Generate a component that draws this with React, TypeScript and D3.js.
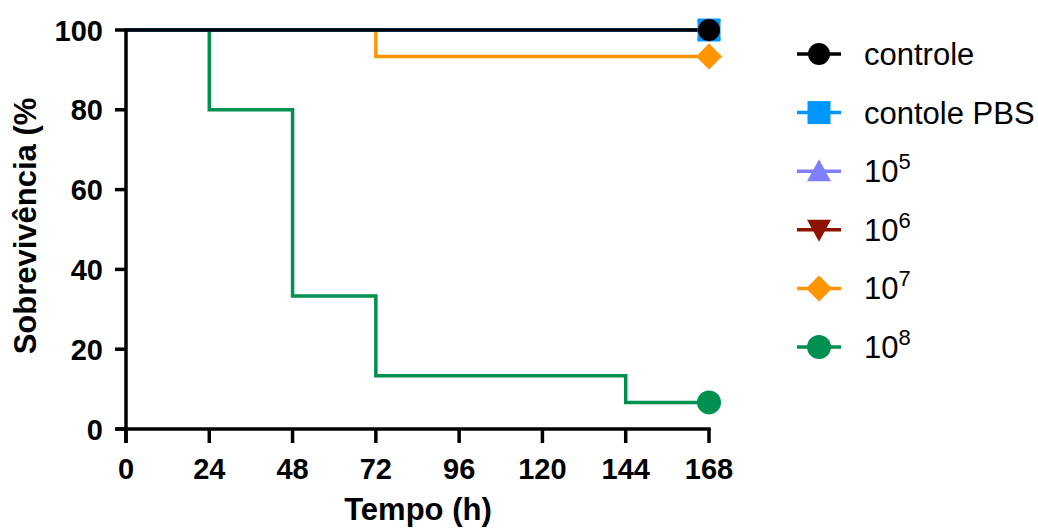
import React from 'react';
import * as d3 from 'd3';

// survival data (time in hours, survival %)
const times = [0, 24, 48, 72, 96, 120, 144, 168];
const xTicks = [0, 24, 48, 72, 96, 120, 144, 168];
const yTicks = [0, 20, 40, 60, 80, 100];

const controle = [100, 100, 100, 100, 100, 100, 100, 100];
const contolePBS = [100, 100, 100, 100, 100, 100, 100, 100];
const d105 = [100, 100, 100, 100, 100, 100, 100, 100];
const d106 = [100, 100, 100, 100, 100, 100, 100, 100];
const d107 = [100, 100, 100, 93.33, 93.33, 93.33, 93.33, 93.33];
const d108 = [100, 80, 33.33, 13.33, 13.33, 13.33, 6.67, 6.67];

const seriesNames = ['controle', 'contole PBS', '10^5', '10^6', '10^7', '10^8'];
const seriesColors = ['#000000', '#0096FF', '#8080FF', '#8E1200', '#FF9500', '#009150'];
const seriesShapes = ['circle', 'square', 'triangle', 'triangleDown', 'diamond', 'bigCircle'];
const seriesValues = [controle, contolePBS, d105, d106, d107, d108];

const W = 1038;
const H = 529;
const font = 'Liberation Sans, Arial, sans-serif';

function Marker({ shape, x, y, color }: { shape: string; x: number; y: number; color: string }) {
  if (shape === 'circle') return <circle cx={x} cy={y} r={11} fill={color} />;
  if (shape === 'bigCircle') return <circle cx={x} cy={y} r={12} fill={color} />;
  if (shape === 'square') return <rect x={x - 11.5} y={y - 11.5} width={23} height={23} fill={color} />;
  if (shape === 'triangle')
    return <path d={`M${x},${y - 12} L${x + 12},${y + 10} L${x - 12},${y + 10} Z`} fill={color} />;
  if (shape === 'triangleDown')
    return <path d={`M${x},${y + 12} L${x + 12},${y - 10} L${x - 12},${y - 10} Z`} fill={color} />;
  return <path d={`M${x},${y - 13} L${x + 13},${y} L${x},${y + 13} L${x - 13},${y} Z`} fill={color} />;
}

function Label({ name, x, y }: { name: string; x: number; y: number }) {
  if (name.includes('^')) {
    const [base, exp] = name.split('^');
    return (
      <text x={x} y={y} fontSize={31} fontFamily={font} fill="#000">
        {base}
        <tspan fontSize={22} dy={-13}>{exp}</tspan>
      </text>
    );
  }
  return (
    <text x={x} y={y} fontSize={31} fontFamily={font} fill="#000">
      {name}
    </text>
  );
}

export default function App() {
  const x = d3.scaleLinear().domain([0, 168]).range([126, 709]);
  const y = d3.scaleLinear().domain([0, 100]).range([429, 30]);

  const line = d3
    .line<[number, number]>()
    .x(d => x(d[0]))
    .y(d => y(d[1]))
    .curve(d3.curveStepAfter);

  const order = [5, 4, 3, 2, 1, 0];

  return (
    <svg width={W} height={H} style={{ position: 'absolute', left: 0, top: 0 }}>
      <rect width={W} height={H} fill="#fff" />
      {/* series lines */}
      {order.map(i => (
        <path
          key={'l' + i}
          d={line(times.map((t, j) => [t, seriesValues[i][j]] as [number, number])) || ''}
          fill="none"
          stroke={seriesColors[i]}
          strokeWidth={3.5}
        />
      ))}
      {/* end markers */}
      {order.map(i => (
        <Marker
          key={'m' + i}
          shape={seriesShapes[i]}
          x={x(168)}
          y={y(seriesValues[i][seriesValues[i].length - 1])}
          color={seriesColors[i]}
        />
      ))}
      {/* axes */}
      <g stroke="#000" strokeWidth={3.5}>
        <line x1={x(0)} x2={x(0)} y1={y(100) - 1.75} y2={y(0) + 14} />
        <line x1={x(0) - 10} x2={x(168) + 1.75} y1={y(0)} y2={y(0)} />
        {yTicks.map(t => (
          <line key={'yt' + t} x1={x(0) - 11} x2={x(0)} y1={y(t)} y2={y(t)} />
        ))}
        {xTicks.map(t => (
          <line key={'xt' + t} x1={x(t)} x2={x(t)} y1={y(0)} y2={y(0) + 14} />
        ))}
      </g>
      {yTicks.map(t => (
        <text
          key={'yl' + t}
          x={x(0) - 23}
          y={y(t) + 10.5}
          textAnchor="end"
          fontSize={29}
          fontWeight="bold"
          fontFamily={font}
        >
          {t}
        </text>
      ))}
      {xTicks.map(t => (
        <text
          key={'xl' + t}
          x={x(t)}
          y={y(0) + 50}
          textAnchor="middle"
          fontSize={29}
          fontWeight="bold"
          fontFamily={font}
        >
          {t}
        </text>
      ))}
      <text x={418} y={520} textAnchor="middle" fontSize={31} fontWeight="bold" fontFamily={font}>
        Tempo (h)
      </text>
      <text
        transform={`translate(36, 226) rotate(-90)`}
        textAnchor="middle"
        fontSize={31}
        fontWeight="bold"
        fontFamily={font}
      >
        Sobrevivência (%
      </text>
      {/* legend */}
      {seriesNames.map((name, i) => {
        const ly = 54 + i * 58.6;
        return (
          <g key={'lg' + i}>
            <line x1={797} x2={841} y1={ly} y2={ly} stroke={seriesColors[i]} strokeWidth={3.5} />
            <Marker shape={seriesShapes[i]} x={819} y={ly} color={seriesColors[i]} />
            <Label name={name} x={864} y={ly + 11} />
          </g>
        );
      })}
    </svg>
  );
}
